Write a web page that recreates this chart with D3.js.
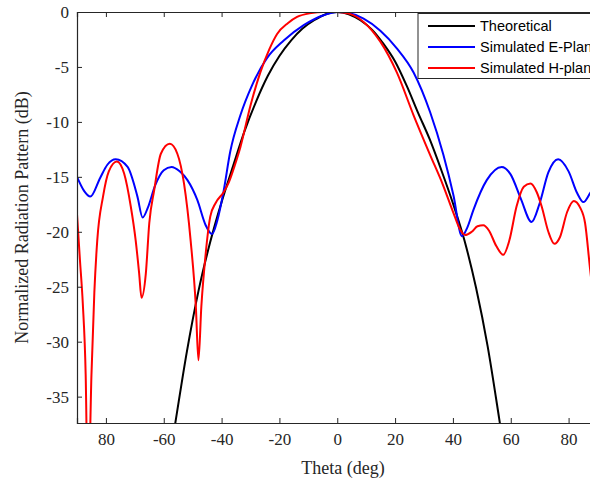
<!DOCTYPE html>
<html>
<head>
<meta charset="utf-8">
<script src="https://cdn.jsdelivr.net/npm/d3@7"></script>
<style>
  html, body { margin: 0; padding: 0; background: #fff; }
  svg { display: block; }
</style>
</head>
<body>
<script>
// ---------- data ----------
const xTickValues = [-80, -60, -40, -20, 0, 20, 40, 60, 80];
const xTickLabels = ["80", "-60", "-40", "-20", "0", "20", "40", "60", "80"];
const yTickValues = [0, -5, -10, -15, -20, -25, -30, -35];
const yTickLabels = ["0", "-5", "-10", "-15", "-20", "-25", "-30", "-35"];
const seriesNames = ["Theoretical", "Simulated E-Plane", "Simulated H-plane"];
const seriesColors = ["#000000", "#0000ff", "#ff0000"];

const theoTheta = [-60, -56, -52, -48, -44, -40, -36, -32, -28, -24, -20, -16, -12, -8, -4, 0,
                   4, 8, 12, 16, 20, 24, 28, 32, 36, 40, 44, 48, 52, 56, 60];
const theoDb = [-44, -37.4, -30.9, -25.4, -21.0, -17.3, -14.0, -10.8, -8.1, -5.8, -4.0, -2.6, -1.5, -0.75, -0.2, 0,
                -0.2, -0.75, -1.6, -2.9, -4.5, -6.7, -9.2, -11.6, -14.4, -17.4, -20.8, -25.1, -30.4, -37.0, -44];

const eTheta = [-90, -87.5, -85.4, -82, -79.5, -76.6, -72.5, -69.1, -67.3, -65.5, -63, -60, -57.3, -54.5, -51.8, -48.4,
                -45.5, -43.3, -41.5, -39.3, -37, -33.5, -29.5, -24.3, -18.5, -11.6, -4.7, 0,
                4, 9.1, 14.9, 20.6, 26.4, 32.1, 36.7, 40.2, 43.1, 45, 47.1, 51.7, 56.9, 60, 63.5, 67.2,
                70, 73, 76.4, 80, 83, 85.1, 87.4, 90];
const eDb = [-15.0, -16.3, -16.8, -15.1, -13.9, -13.4, -14.1, -16.8, -18.7, -17.8, -15.8, -14.4, -14.1, -14.5, -15.3, -17.1,
             -19.4, -20.2, -19.0, -16.3, -12.7, -9.4, -6.7, -4.2, -2.6, -1.2, -0.3, 0,
             -0.1, -0.6, -1.7, -3.3, -5.5, -9.1, -13.0, -16.7, -20.4, -19.6, -18.0, -15.3, -14.1, -14.8, -17.0, -19.1,
             -17.4, -14.6, -13.4, -14.5, -16.5, -17.3, -16.5, -15.3];

const hTheta = [-90, -89, -88, -87, -86.2, -85, -84, -83, -81, -79, -76.2, -73.7, -71.4, -69.7, -68.5, -67.7, -66.2, -65,
                -63.3, -61, -57.9, -55.3, -53, -50.7, -48.9, -48, -47, -45.5, -43.9, -42.1, -39.3, -37.5, -35.5,
                -33.5, -30, -26.6, -23.5, -20.8, -17, -13.9, -9, -5, 0,
                4, 9.1, 14.9, 20.6, 26.4, 32.1, 36.5, 40.2, 42.5, 44.2, 46.5, 48.5, 50.5, 52.5, 55, 57.4, 59.5,
                62, 64.5, 66.8, 69, 70.7, 73, 75.1, 77, 79.5, 81.8, 84, 85.7, 87.4, 89, 90];
const hDb = [-18.4, -22.5, -26.5, -33, -45, -33, -25.5, -20.8, -16.8, -14.5, -13.6, -14.7, -17.7, -20.8, -23.8, -26.0, -23.8, -19.2,
             -16.2, -12.9, -12.0, -12.9, -15.6, -20.8, -26.8, -31.7, -26.8, -22.0, -18.6, -17.4, -16.4, -15.5, -14.0,
             -12.3, -8.5, -5.5, -3.4, -2.0, -1.0, -0.45, -0.1, 0, 0,
             -0.15, -0.9, -2.7, -5.5, -9.4, -13.0, -15.7, -18.3, -19.8, -20.3, -20.0, -19.5, -19.4, -19.9, -21.3, -22.1, -20.8,
             -17.7, -15.9, -15.6, -16.4, -17.7, -20.0, -21.1, -20.5, -18.2, -17.2, -17.8, -19.2, -23.3, -27, -29];

// ---------- layout ----------
const W = 590, H = 479;
const mLeft = 77, mTop = 12, mBottom = 423;
const xRight = 597.5;

const svg = d3.select("body").append("svg").attr("width", W).attr("height", H);

const x = d3.scaleLinear().domain([-90, 90]).range([mLeft, xRight]);
const y = d3.scaleLinear().domain([-37.4, 0]).range([mBottom, mTop]);

const axisColor = "#262626";
const serif = "'Liberation Serif', 'Times New Roman', serif";
const sans = "'Liberation Sans', Arial, sans-serif";

svg.append("defs").append("clipPath").attr("id", "plotClip")
  .append("rect").attr("x", mLeft).attr("y", mTop).attr("width", xRight - mLeft).attr("height", mBottom - mTop);

// ---------- curves ----------
const line = d3.line().x(d => x(d[0])).y(d => y(d[1])).curve(d3.curveMonotoneX);
const series = [
  d3.zip(theoTheta, theoDb),
  d3.zip(eTheta, eDb),
  d3.zip(hTheta, hDb)
];
const g = svg.append("g").attr("clip-path", "url(#plotClip)");
series.forEach((s, i) => {
  g.append("path").datum(s).attr("d", line)
    .attr("fill", "none").attr("stroke", seriesColors[i]).attr("stroke-width", 2)
    .attr("stroke-linejoin", "round");
});

// ---------- axes ----------
const xAxis = d3.axisBottom(x).tickValues(xTickValues).tickSize(-5).tickPadding(10)
  .tickFormat((d, i) => xTickLabels[i]);
const gx = svg.append("g").attr("transform", `translate(0,${mBottom})`).call(xAxis);

const xTop = d3.axisTop(x).tickValues(xTickValues).tickSize(-5).tickFormat("");
const gxt = svg.append("g").attr("transform", `translate(0,${mTop})`).call(xTop);

const yAxis = d3.axisLeft(y).tickValues(yTickValues).tickSize(-5).tickPadding(8)
  .tickFormat((d, i) => yTickLabels[i]);
const gy = svg.append("g").attr("transform", `translate(${mLeft},0)`).call(yAxis);

[gx, gxt, gy].forEach(a => {
  a.select(".domain").attr("stroke", axisColor).attr("stroke-width", 1.2);
  a.selectAll(".tick line").attr("stroke", axisColor).attr("stroke-width", 1);
  a.selectAll(".tick text").attr("fill", axisColor).style("font-family", serif).style("font-size", "17px");
});
gy.selectAll(".tick text").attr("dy", "0.35em");

// axis titles
svg.append("text").attr("x", 343).attr("y", 474).attr("text-anchor", "middle")
  .style("font-family", serif).style("font-size", "18px").attr("fill", axisColor).text("Theta (deg)");
svg.append("text").attr("transform", `translate(28,${(mTop + mBottom) / 2}) rotate(-90)`)
  .attr("text-anchor", "middle")
  .style("font-family", serif).style("font-size", "18px").attr("fill", axisColor)
  .text("Normalized Radiation Pattern (dB)");

// ---------- legend ----------
const lg = svg.append("g");
lg.append("rect").attr("x", 418).attr("y", 13.5).attr("width", 200).attr("height", 65)
  .attr("fill", "#fff").attr("stroke", axisColor).attr("stroke-width", 1);
const rowY = [26, 47, 68];
seriesNames.forEach((name, i) => {
  lg.append("line").attr("x1", 428).attr("x2", 475).attr("y1", rowY[i]).attr("y2", rowY[i])
    .attr("stroke", seriesColors[i]).attr("stroke-width", 2);
  lg.append("text").attr("x", 480).attr("y", rowY[i]).attr("dy", "0.35em")
    .style("font-family", sans).style("font-size", "14.5px").attr("fill", "#000").text(name);
});
</script>
</body>
</html>
